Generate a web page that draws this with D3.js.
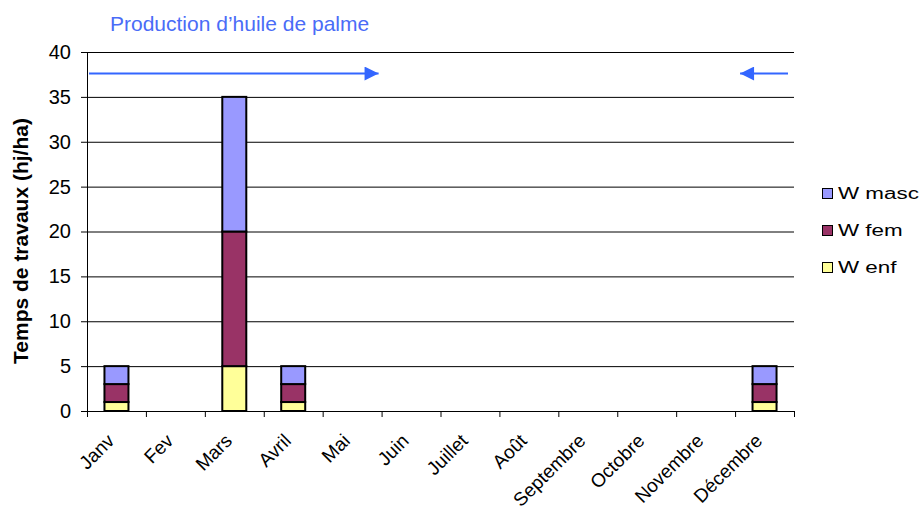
<!DOCTYPE html>
<html lang="fr">
<head>
<meta charset="UTF-8">
<script src="https://d3js.org/d3.v7.min.js"></script>
<style>
    body { margin: 0; background: #fff; font-family: "Liberation Sans", Arial, sans-serif; }
    .axis text { fill: #000; }
    .grid line { stroke: #000; stroke-width: 1px; }
    .legend text { font-size: 16px; }
</style>
</head>
<body>
<div id="chart"></div>
<script>
    const months = ["Janv", "Fev", "Mars", "Avril", "Mai", "Juin", "Juillet", "Août",
        "Septembre", "Octobre", "Novembre", "Décembre"];
    const wEnf  = [1, 0, 5, 1, 0, 0, 0, 0, 0, 0, 0, 1];
    const wFem  = [2, 0, 15, 2, 0, 0, 0, 0, 0, 0, 0, 2];
    const wMasc = [2, 0, 15, 2, 0, 0, 0, 0, 0, 0, 0, 2];
    const seriesNames = ["W enf", "W fem", "W masc"];
    const seriesColors = ["#FFFF99", "#993366", "#9999FF"];
    const yTicks = [0, 5, 10, 15, 20, 25, 30, 35, 40];
    const arrowValue = 37.6;

    const W = 924, H = 517;
    const margin = {top: 52, right: 130, bottom: 106, left: 87};
    const width = W - margin.left - margin.right;
    const height = H - margin.top - margin.bottom;

    const svg = d3.select("#chart").append("svg")
        .attr("width", W).attr("height", H);
    const g = svg.append("g")
        .attr("transform", `translate(${margin.left},${margin.top})`);

    const xc = d3.scaleBand().domain(months).range([0, width]);
    const y = d3.scaleLinear().domain([0, 40]).range([height, 0]);

    // gridlines
    g.append("g").attr("class", "grid")
        .selectAll("line").data(yTicks.slice(1)).enter().append("line")
        .attr("x1", 0).attr("x2", width)
        .attr("y1", d => y(d) + 0.5).attr("y2", d => y(d) + 0.5);

    const table = months.map((m, i) => ({month: m, "W enf": wEnf[i], "W fem": wFem[i], "W masc": wMasc[i]}));
    const stack = d3.stack().keys(seriesNames)(table);
    const barW = 24;

    g.selectAll(".layer").data(stack).enter().append("g")
        .attr("fill", (d, i) => seriesColors[i])
        .selectAll("rect").data(d => d.filter(v => v[1] > v[0])).enter().append("rect")
        .attr("x", d => xc(d.data.month) + xc.bandwidth() / 2 - barW / 2)
        .attr("width", barW)
        .attr("y", d => y(d[1]))
        .attr("height", d => y(d[0]) - y(d[1]))
        .attr("stroke", "#000").attr("stroke-width", 2);

    // y axis
    const ya = g.append("g").attr("class", "axis")
        .call(d3.axisLeft(y).tickValues(yTicks).tickSize(6).tickPadding(10).tickSizeOuter(0));
    ya.selectAll("text").style("font-size", "20px");
    ya.selectAll("line, path").attr("stroke", "#000");

    // x axis with ticks between categories
    const xa = g.append("g").attr("class", "axis")
        .attr("transform", `translate(0,${height})`);
    xa.append("line").attr("x1", 0).attr("x2", width).attr("y1", 0.5).attr("y2", 0.5).attr("stroke", "#000");
    xa.selectAll(".sep").data(d3.range(months.length + 1)).enter().append("line")
        .attr("x1", i => i * xc.step() + 0.5).attr("x2", i => i * xc.step() + 0.5)
        .attr("y1", 0).attr("y2", 6).attr("stroke", "#000");
    xa.selectAll("text").data(months).enter().append("text")
        .attr("transform", d => `translate(${xc(d) + xc.bandwidth() / 2 - 1},${31}) rotate(-45)`)
        .attr("text-anchor", "end")
        .style("font-size", "19px")
        .text(d => d);

    // y label
    svg.append("text")
        .attr("transform", `translate(28,241) rotate(-90)`)
        .attr("text-anchor", "middle")
        .style("font-size", "21px").style("font-weight", "bold")
        .text("Temps de travaux (hj/ha)");

    // title
    svg.append("text")
        .attr("x", 110).attr("y", 31)
        .attr("fill", "#4A6CF7")
        .style("font-size", "21px")
        .text("Production d\u2019huile de palme");

    // arrows
    const blue = "#3366FF";
    svg.append("defs").append("marker")
        .attr("id", "head").attr("viewBox", "0 0 10 10")
        .attr("refX", 10).attr("refY", 5)
        .attr("markerWidth", 8).attr("markerHeight", 7)
        .attr("markerUnits", "strokeWidth")
        .attr("orient", "auto")
        .append("path").attr("d", "M0,0 L10,5 L0,10 Z").attr("fill", blue);
    const ay = y(arrowValue);
    g.append("line")
        .attr("x1", 2).attr("x2", xc("Juin") - 3)
        .attr("y1", ay).attr("y2", ay)
        .attr("stroke", blue).attr("stroke-width", 2).attr("marker-end", "url(#head)");
    g.append("line")
        .attr("x1", width - 6).attr("x2", xc("Décembre") + 5)
        .attr("y1", ay).attr("y2", ay)
        .attr("stroke", blue).attr("stroke-width", 2).attr("marker-end", "url(#head)");

    // legend
    const legendOrder = ["W masc", "W fem", "W enf"];
    const lg = svg.append("g").attr("class", "legend")
        .attr("transform", "translate(822,188)");
    legendOrder.forEach((name, i) => {
        const row = lg.append("g").attr("transform", `translate(0,${i * 37})`);
        row.append("rect").attr("x", 0.5).attr("y", 0.5).attr("width", 10).attr("height", 10)
            .attr("fill", seriesColors[seriesNames.indexOf(name)]).attr("stroke", "#000");
        row.append("text")
            .attr("transform", "translate(16,11) scale(1.4,1)")
            .text(name);
    });
</script>
</body>
</html>
